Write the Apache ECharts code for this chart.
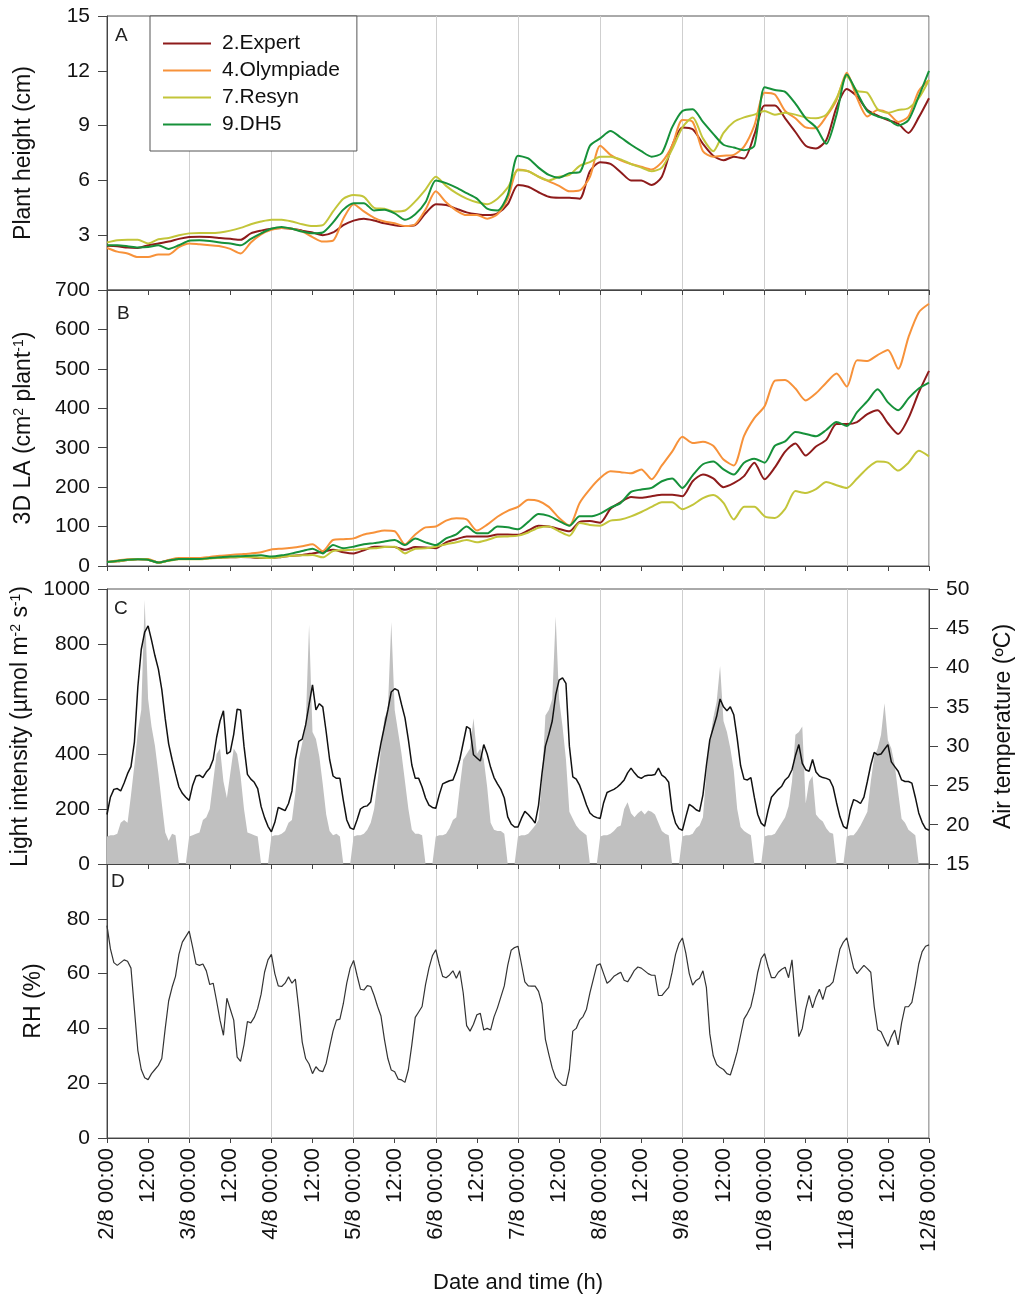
<!DOCTYPE html>
<html>
<head>
<meta charset="utf-8">
<title>Plant height, 3D LA, light, temperature, RH</title>
<script src="https://cdn.jsdelivr.net/npm/echarts@6.0.0/dist/echarts.min.js"></script>
<style>
  html, body { margin: 0; padding: 0; background: #fff; }
  #chart { width: 1024px; height: 1311px; }
</style>
</head>
<body>
<div id="chart"></div>
<script>
// cultivars and colours
var cultivars = ['2.Expert', '4.Olympiade', '7.Resyn', '9.DH5'];
var cultivarColors = ['#8e1b1b', '#f7923a', '#c3c53a', '#16913a'];

// x ticks every 12 h, 2/8 00:00 .. 12/8 00:00
var timeLabels = [
  '2/8 00:00', '12:00', '3/8 00:00', '12:00', '4/8 00:00', '12:00',
  '5/8 00:00', '12:00', '6/8 00:00', '12:00', '7/8 00:00', '12:00',
  '8/8 00:00', '12:00', '9/8 00:00', '12:00', '10/8 00:00', '12:00',
  '11/8 00:00', '12:00', '12/8 00:00'
];

// A: plant height (cm), one value every 3 h
var heightExpert = [
  2.42, 2.4, 2.32, 2.3, 2.45, 2.55, 2.65, 2.8,
  2.9, 2.92, 2.9, 2.85, 2.8, 2.75, 3.1, 3.25,
  3.35, 3.4, 3.35, 3.25, 3.15, 3.0, 3.15, 3.55,
  3.8, 3.9, 3.8, 3.65, 3.55, 3.5, 3.55, 4.2,
  4.7, 4.65, 4.45, 4.25, 4.15, 4.1, 4.2, 4.7,
  5.75, 5.65, 5.35, 5.1, 5.05, 5.05, 5.0, 6.5,
  7.0, 6.9, 6.45, 6.0, 6.0, 5.75, 6.2, 7.9,
  8.9, 8.8, 8.0, 7.35, 7.1, 7.3, 7.2, 8.5,
  10.1, 10.1, 9.4, 8.65, 7.9, 7.75, 8.2, 10.0,
  11.0, 10.6, 9.85, 9.55, 9.3, 9.1, 8.6, 9.45,
  10.5
];
var heightOlympiade = [
  2.3, 2.1, 2.0, 1.8, 1.8, 1.95, 1.95, 2.35,
  2.55, 2.5, 2.45, 2.4, 2.25, 2.0, 2.6, 3.05,
  3.3, 3.4, 3.35, 3.2, 2.9, 2.65, 2.7, 3.9,
  4.7, 4.3, 3.95, 3.75, 3.65, 3.5, 3.6, 4.4,
  5.4, 4.8, 4.35, 4.1, 4.1, 3.9, 4.15, 5.0,
  6.6, 6.5, 6.2, 5.95, 5.7, 5.4, 5.45, 6.2,
  7.9, 7.4, 7.1, 6.9, 6.75, 6.6, 7.0, 7.9,
  9.3, 9.2, 7.6, 7.3, 7.35, 7.4, 7.85, 9.0,
  10.8, 10.7, 9.8, 9.4, 8.9, 8.85, 9.5, 10.4,
  11.9, 10.5, 9.5, 9.85, 9.7, 9.2, 9.5, 10.9,
  11.5
];
var heightResyn = [
  2.6, 2.72, 2.75, 2.75, 2.55, 2.78, 2.85, 3.0,
  3.1, 3.12, 3.12, 3.15, 3.25, 3.4, 3.6, 3.75,
  3.85, 3.85, 3.75, 3.6, 3.5, 3.55, 4.3, 5.0,
  5.2, 5.1, 4.5, 4.45, 4.3, 4.35, 4.85, 5.5,
  6.2, 5.7, 5.3, 5.0, 4.8, 4.7, 5.0, 5.6,
  6.55, 6.5, 6.2, 6.0, 6.2, 6.3, 6.8, 7.0,
  7.3, 7.3, 7.15, 6.9, 6.7, 6.5, 6.7, 7.7,
  8.9, 9.45, 8.3, 7.6, 8.6, 9.2, 9.45, 9.6,
  9.8, 9.6, 9.7, 9.6, 9.45, 9.4, 9.6, 10.5,
  11.7, 10.9, 10.8, 9.9, 9.7, 9.85, 9.95, 10.5,
  11.5
];
var heightDH5 = [
  2.45, 2.45, 2.4, 2.33, 2.35, 2.45, 2.25, 2.45,
  2.7, 2.72, 2.68, 2.6, 2.55, 2.45, 2.8, 3.1,
  3.35, 3.45, 3.35, 3.2, 3.1, 3.15, 3.7, 4.4,
  4.75, 4.75, 4.35, 4.4, 4.2, 3.85, 4.15, 4.8,
  6.0, 5.85, 5.6, 5.3, 5.0, 4.45, 4.35, 5.2,
  7.35, 7.2, 6.7, 6.3, 6.15, 6.4, 6.45, 7.9,
  8.3, 8.7, 8.35, 7.95, 7.6, 7.3, 7.5, 8.9,
  9.8, 9.9, 9.2, 8.55, 7.95, 7.8, 7.65, 7.9,
  11.1, 10.95, 10.85, 10.2, 9.4, 8.9, 8.0, 9.6,
  11.8, 10.8, 9.8, 9.5, 9.35, 9.0, 9.3, 10.6,
  12.0
];

// B: 3D leaf area (cm2 per plant), one value every 3 h
var laExpert = [
  10, 12, 15, 17, 16, 9, 14, 18,
  18, 18, 20, 21, 22, 23, 22, 20,
  20, 23, 26, 28, 32, 36, 41, 35,
  32, 40, 49, 49, 48, 41, 48, 47,
  45, 60, 68, 75, 75, 75, 80, 80,
  79, 90, 102, 100, 94, 88, 112, 114,
  110, 145, 162, 175, 173, 177, 181, 181,
  177, 215, 232, 222, 200, 210, 228, 262,
  220, 250, 290, 311, 280, 303, 320, 360,
  360, 365, 385, 395, 362, 335, 375, 440,
  495
];
var laOlympiade = [
  10, 14, 17, 18, 18, 9, 15, 20,
  20, 20, 23, 26, 28, 30, 32, 35,
  42, 44, 46, 50, 55, 38, 66, 68,
  70, 80, 85, 90, 88, 55, 80, 98,
  100, 115, 121, 118, 90, 105, 125, 140,
  150, 168, 165, 150, 122, 103, 160, 195,
  223, 240, 238, 235, 245, 220, 255, 290,
  328, 312, 315, 305, 270, 255, 330, 375,
  405, 470, 472, 450, 420, 438, 465, 488,
  455, 522, 520, 535, 548, 500, 580, 643,
  665
];
var laResyn = [
  10, 12, 15, 17, 16, 8, 13, 17,
  17, 17, 19, 21, 22, 23, 23, 21,
  20, 23, 26, 27, 28, 22, 38, 40,
  41, 44, 45, 48, 49, 32, 44, 45,
  49, 55, 60, 66, 60, 66, 74, 75,
  77, 85, 97, 100, 88, 77, 109, 104,
  102, 115, 118, 126, 137, 150, 162, 162,
  144, 155, 172, 180, 160, 118, 150, 150,
  126, 122, 145, 190, 185, 195, 213, 205,
  198, 222, 248, 265, 262, 242, 262, 292,
  278
];
var laDH5 = [
  10, 13, 16, 17, 16, 9, 14, 18,
  18, 18, 20, 22, 24, 25, 26, 27,
  24, 27, 32, 38, 44, 32, 53, 45,
  49, 55, 58, 62, 66, 53, 70, 60,
  53, 70, 80, 100, 83, 83, 100, 98,
  93, 112, 132, 127, 114, 102, 126, 126,
  133, 148, 160, 188, 194, 198, 215, 222,
  198, 230, 258, 265, 245, 232, 262, 272,
  262, 305, 316, 340, 335, 329, 345, 365,
  355, 390, 418, 448, 415, 395, 425, 450,
  465
];

// C: light intensity (umol m-2 s-1), hourly
var lightVals = [
  100, 105, 105, 110, 150, 160, 150, 250, 360, 480, 560, 960, 600, 500, 430, 330, 220, 115, 85, 110, 105, 0, 0, 0,
  100, 105, 110, 115, 160, 170, 200, 300, 400, 420, 300, 240, 330, 420, 400, 320, 200, 115, 110, 105, 100, 0, 0, 0,
  100, 105, 105, 110, 120, 150, 160, 260, 380, 440, 500, 870, 480, 455, 390, 290, 180, 120, 105, 110, 100, 0, 0, 0,
  100, 105, 105, 110, 125, 150, 200, 300, 420, 530, 560, 880, 560, 480, 400, 300, 200, 125, 110, 110, 105, 0, 0, 0,
  100, 105, 105, 110, 130, 160, 170, 280, 380, 400, 420, 530, 400, 420, 380, 280, 150, 125, 120, 120, 110, 0, 0, 0,
  100, 105, 105, 110, 125, 140, 160, 300, 540, 560, 600, 900, 600, 500, 380, 190, 165, 140, 125, 115, 105, 0, 0, 0,
  100, 105, 105, 110, 120, 135, 140, 200, 225, 185, 170, 185, 195, 180, 195, 190, 180, 150, 120, 110, 105, 0, 0, 0,
  100, 105, 105, 110, 130, 140, 170, 330, 450, 530, 590, 720, 520, 480, 420, 340, 200, 135, 120, 112, 105, 0, 0, 0,
  100, 105, 105, 110, 130, 150, 170, 210, 300, 470, 480, 500, 220, 300, 320, 180, 165, 155, 130, 115, 110, 0, 0, 0,
  100, 105, 105, 120, 140, 165, 190, 300, 390, 420, 470, 585, 450, 420, 360, 260, 165, 150, 125, 115, 105, 0, 0, 0,
  0
];

// C: air temperature (C), hourly
var tempVals = [
  21.3, 23.5, 24.5, 24.6, 24.3, 25.3, 26.5, 27.4, 30.5, 37.5, 42.3, 44.5, 45.3, 43.5, 41.5, 39.8, 37.2, 33.5, 30.3, 28.3, 26.5, 24.8, 24.0, 23.5,
  23.1, 25.0, 26.2, 26.3, 26.0, 26.7, 27.2, 28.3, 31.1, 33.2, 34.5, 29.0, 29.3, 31.5, 34.7, 34.6, 30.0, 26.4, 25.8, 25.4, 24.6, 22.3, 20.9, 19.8,
  19.1, 20.3, 22.2, 22.0, 21.8, 22.7, 24.3, 28.3, 30.6, 30.9, 32.7, 35.3, 37.8, 34.6, 35.4, 35.0, 31.8, 28.3, 26.2, 25.9, 25.9, 23.1, 20.6, 19.6,
  19.4, 20.6, 22.0, 22.3, 22.4, 22.9, 25.5, 28.0, 30.4, 32.5, 34.6, 36.9, 37.3, 37.1, 35.3, 33.6, 30.8, 27.6, 25.9, 25.9, 24.8, 23.4, 22.5, 22.2,
  22.1, 23.8, 25.2, 25.4, 25.6, 25.7, 26.8, 28.3, 30.4, 32.5, 32.2, 28.9, 28.5, 28.1, 30.2, 29.0, 27.3, 26.0, 25.2, 24.5, 23.4, 21.0, 20.1, 19.7,
  19.7, 20.8, 21.7, 21.3, 20.8, 20.2, 22.5, 26.5, 30.0, 31.5, 33.2, 36.5, 38.4, 38.7, 38.0, 30.0, 26.1, 25.8, 25.0, 23.8, 22.5, 21.5, 21.1, 20.9,
  20.8, 22.8, 24.1, 24.3, 24.5, 24.8, 25.2, 25.7, 26.6, 27.2, 26.6, 26.1, 25.9, 26.2, 26.3, 26.3, 26.4, 27.2, 26.3, 26.0, 25.4, 21.8, 20.2, 19.5,
  19.3, 21.0, 22.6, 22.3, 21.9, 21.7, 23.8, 27.5, 30.8, 32.3, 33.8, 36.0, 35.0, 34.5, 35.0, 34.0, 31.0, 27.5, 25.8, 25.7, 26.0, 23.5, 21.3, 20.2,
  19.8, 21.8, 23.5, 24.0, 24.5, 24.9, 25.7, 26.1, 27.0, 28.8, 30.2, 27.8, 27.0, 26.8, 28.3, 26.7, 26.2, 26.0, 25.9, 25.7, 24.8, 22.8, 21.0, 19.8,
  19.5, 21.8, 23.2, 23.0, 22.7, 23.5, 25.5, 27.6, 29.2, 28.9, 29.0, 29.6, 30.2, 28.0, 27.4, 26.8, 25.7, 25.5, 25.5, 25.3, 23.5, 21.5, 20.3, 19.5,
  19.3
];

// D: relative humidity (%), hourly
var rhVals = [
  77.5, 69, 64, 63, 64, 65, 64.5, 62, 47, 32, 25, 22, 21.3, 23.5, 25, 26.5, 29, 40, 50, 55, 59, 67, 71.5, 73.5,
  75.5, 69.7, 63.5, 63, 63.5, 61, 56, 56.5, 50, 43, 37.5, 51, 47, 43, 29.5, 28, 34, 42.5, 42, 44, 47.3, 52.5, 60.5, 65,
  67, 60, 55.5, 55.3, 56.5, 58.8, 56.5, 58, 47, 35, 29, 27, 23.5, 26, 24.6, 24.2, 27.3, 33.3, 39, 43, 43.4, 49, 56.5, 62,
  64.8, 59.4, 54.3, 54, 55.6, 55.3, 52, 48, 44.5, 36, 29, 24.8, 24.2, 21.5, 21.2, 20.3, 25, 34, 44, 46, 48, 56, 62, 66.5,
  68.7, 63.5, 59, 58.5, 59.5, 61, 58.3, 61, 53, 41, 39, 41.5, 45, 45.5, 39.4, 40, 39.4, 44.2, 47.5, 51.5, 55.5, 63, 68.5, 69.5,
  70, 63.5, 57, 55.5, 55.4, 55.4, 53.5, 49, 36, 30.5, 25.5, 22, 20.5, 19.3, 19.2, 25, 39, 40, 43, 44.3, 47, 53, 58, 63,
  63.6, 60, 56.5, 57.5, 59, 59.8, 60.5, 57.6, 57, 59, 61.2, 62.4, 62, 61, 60, 59.4, 59.4, 52, 52, 53.5, 55, 60.5, 67, 71,
  73, 67.5, 60, 55.8, 57.5, 58.3, 61, 55, 38, 30, 26.8, 25.7, 25, 23.5, 23, 27, 31.5, 37.5, 43.5, 45.5, 48, 53.5, 60.5, 65.5,
  67.3, 62.5, 58.5, 58.5, 60.5, 61.6, 62.3, 58.5, 65, 50.3, 37, 40, 47, 52, 47.5, 51.5, 54.3, 50.5, 55, 55.6, 57, 63, 69, 71.5,
  73, 67.5, 62, 60, 61.5, 63, 61.8, 60.5, 48, 39.5, 38.8, 36, 33.5, 37, 39.4, 34, 42, 47.9, 47.9, 49.5, 56, 63.5, 68, 70,
  70.5
];

var FONT = '"Liberation Sans", Arial, Helvetica, sans-serif';
var AXIS_COLOR = '#444';

// value array -> [hour, value] pairs
function toPairs(vals, stepHours) {
  return vals.map(function (v, i) { return [i * stepHours, v]; });
}

function makeXAxis(gridIndex, withLabels) {
  return {
    type: 'value',
    gridIndex: gridIndex,
    min: 0,
    max: 240,
    interval: 12,
    axisLine: { show: true, onZero: false, lineStyle: { color: AXIS_COLOR, width: 1 } },
    axisTick: { show: true, length: 5, lineStyle: { color: AXIS_COLOR } },
    axisLabel: withLabels ? {
      show: true,
      rotate: 90,
      margin: 10,
      fontSize: 22,
      color: '#111',
      fontFamily: FONT,
      formatter: function (v) { return timeLabels[Math.round(v / 12)]; }
    } : { show: false },
    splitLine: { show: true, lineStyle: { color: ['#cfcfcf', 'rgba(0,0,0,0)'], width: 1 } },
    name: withLabels ? 'Date and time (h)' : '',
    nameLocation: 'middle',
    nameGap: 134,
    nameTextStyle: { fontSize: 22, color: '#111', fontFamily: FONT }
  };
}

var supRich = {
  sup: { fontSize: 14, verticalAlign: 'top', color: '#111', fontFamily: FONT }
};

function makeYAxis(o) {
  return {
    type: 'value',
    gridIndex: o.grid,
    position: o.position || 'left',
    min: o.min,
    max: o.max,
    interval: o.interval,
    axisLine: { show: true, lineStyle: { color: AXIS_COLOR, width: 1 } },
    axisTick: { show: true, length: 9, lineStyle: { color: AXIS_COLOR } },
    axisLabel: {
      fontSize: 21,
      color: '#111',
      margin: 17,
      fontFamily: FONT,
      formatter: function (v) { return o.hide && o.hide.indexOf(v) >= 0 ? '' : String(v); }
    },
    splitLine: { show: false },
    name: o.name,
    nameLocation: 'middle',
    nameRotate: 90,
    nameGap: o.gap,
    nameTextStyle: { fontSize: 23, color: '#111', fontFamily: FONT, rich: supRich }
  };
}

var grids = [
  { left: 107, right: 95, top: 16, height: 274 },
  { left: 107, right: 95, top: 290, height: 276 },
  { left: 107, right: 95, top: 589, height: 275 },
  { left: 107, right: 95, top: 864, height: 274 }
].map(function (g) {
  g.show = true;
  g.borderColor = '#555';
  g.borderWidth = 1;
  g.backgroundColor = 'transparent';
  return g;
});

var series = [];
var heightSets = [heightExpert, heightOlympiade, heightResyn, heightDH5];
var laSets = [laExpert, laOlympiade, laResyn, laDH5];
cultivars.forEach(function (name, i) {
  series.push({
    name: name, type: 'line', xAxisIndex: 0, yAxisIndex: 0,
    data: toPairs(heightSets[i], 3), symbol: 'none', smooth: 0.25,
    lineStyle: { color: cultivarColors[i], width: 2 }, itemStyle: { color: cultivarColors[i] },
    z: 3 + i
  });
});
cultivars.forEach(function (name, i) {
  series.push({
    name: name, type: 'line', xAxisIndex: 1, yAxisIndex: 1,
    data: toPairs(laSets[i], 3), symbol: 'none', smooth: 0.25,
    lineStyle: { color: cultivarColors[i], width: 2 }, itemStyle: { color: cultivarColors[i] },
    z: 3 + i
  });
});
series.push({
  name: 'Light', type: 'line', xAxisIndex: 2, yAxisIndex: 2,
  data: toPairs(lightVals, 1), symbol: 'none',
  lineStyle: { width: 0, color: '#c0c0c0' },
  areaStyle: { color: '#c0c0c0', opacity: 1 },
  z: 1
});
series.push({
  name: 'Temperature', type: 'line', xAxisIndex: 2, yAxisIndex: 3,
  data: toPairs(tempVals, 1), symbol: 'none',
  lineStyle: { color: '#111', width: 1.5 },
  z: 4
});
series.push({
  name: 'RH', type: 'line', xAxisIndex: 3, yAxisIndex: 4,
  data: toPairs(rhVals, 1), symbol: 'none',
  lineStyle: { color: '#333', width: 1.2 },
  z: 4
});

var panelLetter = function (text, left, top) {
  return { text: text, left: left, top: top, textStyle: { fontSize: 19, fontWeight: 'normal', color: '#222', fontFamily: FONT } };
};

var option = {
  animation: false,
  backgroundColor: '#fff',
  textStyle: { fontFamily: FONT },
  title: [
    panelLetter('A', 110, 21),
    panelLetter('B', 112, 299),
    panelLetter('C', 109, 594),
    panelLetter('D', 106, 867)
  ],
  legend: {
    data: cultivars,
    orient: 'vertical',
    left: 150,
    top: 16,
    padding: [17, 17, 16, 13],
    icon: 'rect',
    itemWidth: 48,
    itemHeight: 2,
    itemGap: 6,
    borderColor: '#555',
    borderWidth: 1,
    backgroundColor: '#fff',
    textStyle: { fontSize: 21, color: '#111', fontFamily: FONT, padding: [0, 0, 0, 6] }
  },
  grid: grids,
  xAxis: [makeXAxis(0, false), makeXAxis(1, false), makeXAxis(2, false), makeXAxis(3, true)],
  yAxis: [
    makeYAxis({ grid: 0, min: 0, max: 15, interval: 3, hide: [0], name: 'Plant height (cm)', gap: 72 }),
    makeYAxis({ grid: 1, min: 0, max: 700, interval: 100, name: '3D LA (cm{sup|2} plant{sup|-1})', gap: 72 }),
    makeYAxis({ grid: 2, min: 0, max: 1000, interval: 200, name: 'Light intensity (µmol m{sup|-2} s{sup|-1})', gap: 73 }),
    makeYAxis({ grid: 2, position: 'right', min: 15, max: 50, interval: 5, name: 'Air temperature (ºC)', gap: 63 }),
    makeYAxis({ grid: 3, min: 0, max: 100, interval: 20, hide: [100], name: 'RH (%)', gap: 62 })
  ],
  series: series
};

var chart = echarts.init(document.getElementById('chart'), null, { renderer: 'canvas' });
chart.setOption(option);
</script>
</body>
</html>
